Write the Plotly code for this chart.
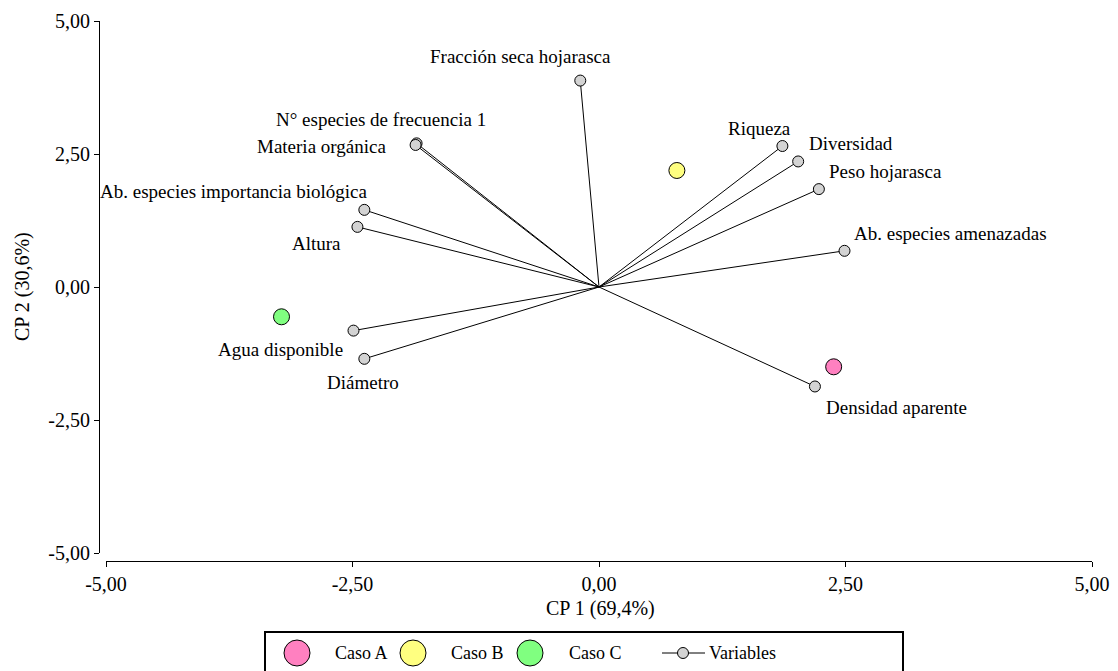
import plotly.graph_objects as go

# ---- data ----
var_names = ["Fracción seca hojarasca", "N° especies de frecuencia 1", "Materia orgánica",
             "Ab. especies importancia biológica", "Altura", "Agua disponible", "Diámetro",
             "Densidad aparente", "Ab. especies amenazadas", "Peso hojarasca",
             "Diversidad", "Riqueza"]
var_x = [-0.19, -1.85, -1.86, -2.38, -2.45, -2.49, -2.38, 2.19, 2.49, 2.23, 2.02, 1.86]
var_y = [3.88, 2.70, 2.67, 1.45, 1.13, -0.82, -1.35, -1.87, 0.68, 1.84, 2.36, 2.65]

case_names = ["Caso A", "Caso B", "Caso C"]
case_x = [2.38, 0.79, -3.22]
case_y = [-1.50, 2.19, -0.56]
case_colors = ["#ff80c0", "#ffff80", "#80ff80"]

tick_vals = [-5, -2.5, 0, 2.5, 5]
tick_text = ["-5,00", "-2,50", "0,00", "2,50", "5,00"]

# ---- label styling (anchor, pixel shifts) ----
label_style = [
    ("center", -60, 24), ("center", -36, 24), ("right", -28, -2),
    ("right", 6, 18), ("center", -41, -17), ("right", -8, -19),
    ("center", -1, -24), ("left", 9, -21), ("left", 7, 17),
    ("left", 8, 18), ("left", 9, 18), ("center", -23, 18),
]

W, H = 1118, 671
FONT = "Liberation Serif, Times New Roman, Times, serif"
FS_LAB = 19
FS_AX = 20
FS_LEG = 18
GRAY = "#d3d3d3"

fig = go.Figure()

# vectors
lx, ly = [], []
for x, y in zip(var_x, var_y):
    lx += [0, x, None]
    ly += [0, y, None]
fig.add_trace(go.Scatter(x=lx, y=ly, mode="lines", line=dict(color="black", width=1),
                         showlegend=False, hoverinfo="skip"))

# cases
for n, x, y, c in zip(case_names, case_x, case_y, case_colors):
    fig.add_trace(go.Scatter(x=[x], y=[y], mode="markers", name=n, showlegend=False,
                             marker=dict(size=16, color=c, line=dict(color="black", width=1))))

# variable endpoints
fig.add_trace(go.Scatter(x=var_x, y=var_y, mode="markers", text=var_names, name="Variables",
                         showlegend=False,
                         marker=dict(size=11, color=GRAY, line=dict(color="black", width=1))))

annotations = []
for n, x, y, (anc, dx, dy) in zip(var_names, var_x, var_y, label_style):
    annotations.append(dict(x=x, y=y, xref="x", yref="y", text=n, showarrow=False,
                            xanchor=anc, yanchor="middle", xshift=dx, yshift=dy,
                            font=dict(family=FONT, size=FS_LAB, color="black")))

def px(x):
    return x / W

def py(y):
    return 1 - y / H

annotations.append(dict(x=px(600), y=py(608), xref="paper", yref="paper", text="CP 1 (69,4%)",
                        showarrow=False, xanchor="center", yanchor="middle",
                        font=dict(family=FONT, size=FS_AX, color="black")))
annotations.append(dict(x=px(22), y=py(287), xref="paper", yref="paper", text="CP 2 (30,6%)",
                        showarrow=False, xanchor="center", yanchor="middle", textangle=-90,
                        font=dict(family=FONT, size=FS_AX, color="black")))

# ---- legend (drawn box) ----
shapes = [dict(type="rect", xref="paper", yref="paper", x0=px(265), x1=px(903),
               y0=py(632), y1=py(690), line=dict(color="black", width=2), fillcolor="white",
               layer="above")]
leg_y = 653
r = 13
for c, cx, tx, n in zip(case_colors, [297, 413, 530], [333, 449, 567], case_names):
    shapes.append(dict(type="circle", xref="paper", yref="paper", x0=px(cx - r), x1=px(cx + r),
                       y0=py(leg_y + r), y1=py(leg_y - r), fillcolor=c,
                       line=dict(color="black", width=1), layer="above"))
    annotations.append(dict(x=px(tx), y=py(leg_y), xref="paper", yref="paper", text=n,
                            showarrow=False, xanchor="left", yanchor="middle",
                            font=dict(family=FONT, size=FS_LEG, color="black")))
shapes.append(dict(type="line", xref="paper", yref="paper", x0=px(662), x1=px(705),
                   y0=py(leg_y), y1=py(leg_y), line=dict(color="black", width=1), layer="above"))
shapes.append(dict(type="circle", xref="paper", yref="paper", x0=px(683 - 5.5), x1=px(683 + 5.5),
                   y0=py(leg_y + 5.5), y1=py(leg_y - 5.5), fillcolor=GRAY,
                   line=dict(color="black", width=1), layer="above"))
annotations.append(dict(x=px(707), y=py(leg_y), xref="paper", yref="paper", text="Variables",
                        showarrow=False, xanchor="left", yanchor="middle",
                        font=dict(family=FONT, size=FS_LEG, color="black")))

axis_common = dict(range=[-5, 5], tickvals=tick_vals, ticktext=tick_text, showgrid=False,
                   zeroline=False, showline=True, linecolor="black", linewidth=1,
                   ticks="outside", ticklen=5, tickcolor="black", tickwidth=1,
                   tickfont=dict(family=FONT, size=FS_AX, color="black"), automargin=False)

fig.update_layout(
    width=W, height=H,
    margin=dict(l=0, r=0, t=0, b=0),
    paper_bgcolor="white", plot_bgcolor="white",
    xaxis=dict(domain=[106 / W, 1092 / W], anchor="free", position=1 - 561 / H, **axis_common),
    yaxis=dict(domain=[1 - 553 / H, 1 - 21 / H], anchor="free", position=99 / W, **axis_common),
    annotations=annotations,
    shapes=shapes,
    showlegend=False,
    font=dict(family=FONT, size=FS_LAB, color="black"),
)

fig.write_html("out.html", config={"displayModeBar": False},
               post_script="document.body.style.margin='0px';")
